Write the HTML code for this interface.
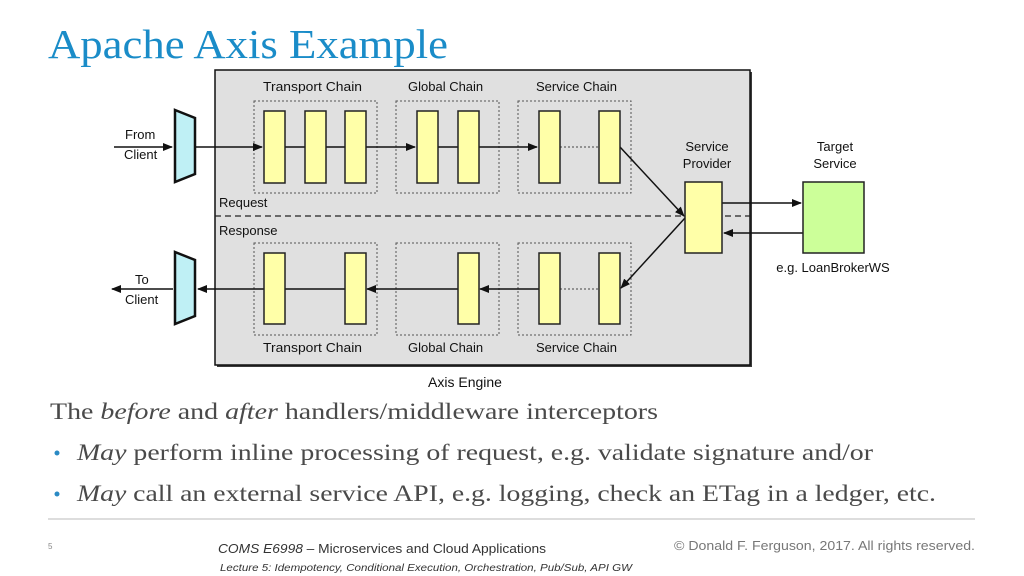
<!DOCTYPE html>
<html><head><meta charset="utf-8"><style>
html,body{margin:0;padding:0;background:#fff;width:1024px;height:576px;overflow:hidden}
svg{display:block}
.s{font-family:"Liberation Sans",sans-serif;font-size:13px;fill:#111}
.r{font-family:"Liberation Serif",serif;font-size:23px;fill:#4a4a4a}
</style></head><body>
<svg width="1024" height="576" viewBox="0 0 1024 576" xmlns="http://www.w3.org/2000/svg">
<defs>
<marker id="a" markerWidth="10" markerHeight="8" refX="9" refY="4" orient="auto" markerUnits="userSpaceOnUse"><path d="M0,0 L10,4 L0,8 z" fill="#111"/></marker>
</defs>
<text x="48" y="58" font-family="Liberation Serif,serif" font-size="41" fill="#1a8cc8" textLength="400" lengthAdjust="spacingAndGlyphs">Apache Axis Example</text>
<rect x="217" y="72" width="535" height="295" fill="#3a3a3a"/>
<rect x="215" y="70" width="535" height="295" fill="#e0e0e0" stroke="#111" stroke-width="1.5"/>
<line x1="215" y1="216" x2="750" y2="216" stroke="#222" stroke-width="1.2" stroke-dasharray="6,4"/>
<g fill="none" stroke="#555" stroke-width="1" stroke-dasharray="2,2">
<rect x="254" y="101" width="123" height="92"/><rect x="396" y="101" width="103" height="92"/><rect x="518" y="101" width="113" height="92"/>
<rect x="254" y="243" width="123" height="92"/><rect x="396" y="243" width="103" height="92"/><rect x="518" y="243" width="113" height="92"/>
</g>
<line x1="196" y1="147" x2="262" y2="147" stroke="#111" stroke-width="1.5" marker-end="url(#a)"/>
<line x1="264" y1="147" x2="415" y2="147" stroke="#111" stroke-width="1.5" marker-end="url(#a)"/>
<line x1="417" y1="147" x2="537" y2="147" stroke="#111" stroke-width="1.5" marker-end="url(#a)"/>
<line x1="560" y1="147" x2="599" y2="147" stroke="#444" stroke-width="1" stroke-dasharray="2,2"/>
<line x1="114" y1="147" x2="172" y2="147" stroke="#111" stroke-width="1.5" marker-end="url(#a)"/>
<line x1="620" y1="147" x2="684" y2="216" stroke="#111" stroke-width="1.5" marker-end="url(#a)"/>
<line x1="685" y1="218" x2="621" y2="288" stroke="#111" stroke-width="1.5" marker-end="url(#a)"/>
<line x1="560" y1="289" x2="599" y2="289" stroke="#444" stroke-width="1" stroke-dasharray="2,2"/>
<line x1="539" y1="289" x2="480" y2="289" stroke="#111" stroke-width="1.5" marker-end="url(#a)"/>
<line x1="458" y1="289" x2="367" y2="289" stroke="#111" stroke-width="1.5" marker-end="url(#a)"/>
<line x1="345" y1="289" x2="198" y2="289" stroke="#111" stroke-width="1.5" marker-end="url(#a)"/>
<line x1="173" y1="289" x2="112" y2="289" stroke="#111" stroke-width="1.5" marker-end="url(#a)"/>
<line x1="722" y1="203" x2="801" y2="203" stroke="#111" stroke-width="1.5" marker-end="url(#a)"/>
<line x1="803" y1="233" x2="724" y2="233" stroke="#111" stroke-width="1.5" marker-end="url(#a)"/>
<g fill="#ffffa8" stroke="#222" stroke-width="1.5">
<rect x="264" y="111" width="21" height="72"/><rect x="305" y="111" width="21" height="72"/><rect x="345" y="111" width="21" height="72"/>
<rect x="417" y="111" width="21" height="72"/><rect x="458" y="111" width="21" height="72"/>
<rect x="539" y="111" width="21" height="72"/><rect x="599" y="111" width="21" height="72"/>
<rect x="264" y="253" width="21" height="71"/><rect x="345" y="253" width="21" height="71"/>
<rect x="458" y="253" width="21" height="71"/>
<rect x="539" y="253" width="21" height="71"/><rect x="599" y="253" width="21" height="71"/>
<rect x="685" y="182" width="37" height="71"/>
</g>
<rect x="803" y="182" width="61" height="71" fill="#ccff99" stroke="#222" stroke-width="1.5"/>
<g fill="#bff0f5" stroke="#111" stroke-width="2.5">
<path d="M175,110 L195,118 L195,174 L175,182 Z"/>
<path d="M175,252 L195,260 L195,316 L175,324 Z"/>
</g>
<g class="s">
<text x="263" y="91" textLength="99" lengthAdjust="spacingAndGlyphs">Transport Chain</text><text x="408" y="91">Global Chain</text><text x="536" y="91">Service Chain</text>
<text x="263" y="352" textLength="99" lengthAdjust="spacingAndGlyphs">Transport Chain</text><text x="408" y="352">Global Chain</text><text x="536" y="352">Service Chain</text>
<text x="219" y="207">Request</text><text x="219" y="235">Response</text>
<text x="125" y="139">From</text><text x="124" y="159">Client</text>
<text x="135" y="284">To</text><text x="125" y="304">Client</text>
<text x="707" y="151" text-anchor="middle">Service</text><text x="707" y="168" text-anchor="middle">Provider</text>
<text x="835" y="151" text-anchor="middle">Target</text><text x="835" y="168" text-anchor="middle">Service</text>
<text x="833" y="272" text-anchor="middle">e.g. LoanBrokerWS</text>
<text x="465" y="387" text-anchor="middle" font-size="14">Axis Engine</text>
</g>
<text class="r" x="50" y="419" textLength="608" lengthAdjust="spacingAndGlyphs">The <tspan font-style="italic">before</tspan> and <tspan font-style="italic">after</tspan> handlers/middleware interceptors</text>
<circle cx="57" cy="453" r="2.5" fill="#2a8ac4"/>
<text class="r" x="77" y="460" textLength="796" lengthAdjust="spacingAndGlyphs"><tspan font-style="italic">May</tspan> perform inline processing of request, e.g. validate signature and/or</text>
<circle cx="57" cy="494" r="2.5" fill="#2a8ac4"/>
<text class="r" x="77" y="501" textLength="859" lengthAdjust="spacingAndGlyphs"><tspan font-style="italic">May</tspan> call an external service API, e.g. logging, check an ETag in a ledger, etc.</text>
<line x1="48" y1="519" x2="975" y2="519" stroke="#bbb" stroke-width="1"/>
<text x="48" y="549" font-family="Liberation Sans,sans-serif" font-size="8" fill="#888">5</text>
<text x="218" y="553" font-family="Liberation Sans,sans-serif" font-size="13" fill="#333" textLength="328" lengthAdjust="spacingAndGlyphs"><tspan font-style="italic">COMS E6998</tspan> – Microservices and Cloud Applications</text>
<text x="220" y="571" font-family="Liberation Sans,sans-serif" font-size="10" font-style="italic" fill="#333" textLength="412" lengthAdjust="spacingAndGlyphs">Lecture 5: Idempotency, Conditional Execution, Orchestration, Pub/Sub, API GW</text>
<text x="674" y="550" font-family="Liberation Sans,sans-serif" font-size="13" fill="#777" textLength="301" lengthAdjust="spacingAndGlyphs">© Donald F. Ferguson, 2017. All rights reserved.</text>
</svg>
</body></html>
